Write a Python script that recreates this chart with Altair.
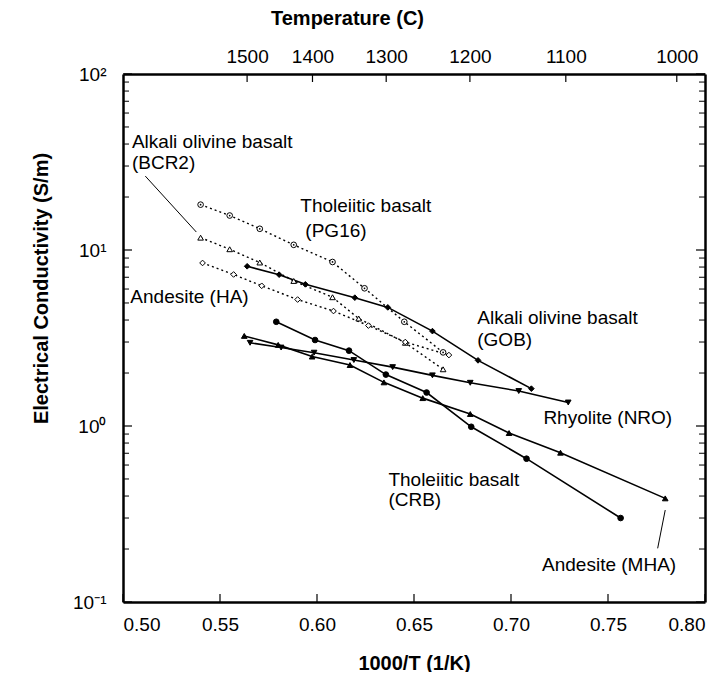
import altair as alt
import pandas as pd

# ---------------- data ----------------
pg16_x = [0.540, 0.555, 0.5705, 0.588, 0.608, 0.6245, 0.645, 0.665]
pg16_y = [18.1, 15.7, 13.2, 10.7, 8.55, 6.06, 3.91, 2.62]
bcr2_x = [0.540, 0.555, 0.5705, 0.588, 0.608, 0.6215, 0.6455, 0.665]
bcr2_y = [11.75, 10.1, 8.49, 6.67, 5.39, 4.08, 2.97, 2.10]
ha_x = [0.541, 0.557, 0.5715, 0.590, 0.6085, 0.6265, 0.6455, 0.668]
ha_y = [8.44, 7.26, 6.26, 5.23, 4.50, 3.72, 3.00, 2.53]
gob_x = [0.564, 0.5805, 0.594, 0.6195, 0.6365, 0.6595, 0.683, 0.7105]
gob_y = [8.08, 7.24, 6.38, 5.36, 4.72, 3.46, 2.36, 1.63]
crb_x = [0.579, 0.599, 0.6165, 0.6355, 0.6565, 0.6795, 0.708, 0.7565]
crb_y = [3.91, 3.08, 2.68, 1.96, 1.55, 0.99, 0.652, 0.30]
mha_x = [0.5625, 0.580, 0.5975, 0.617, 0.6345, 0.6545, 0.679, 0.699, 0.7255, 0.7795]
mha_y = [3.25, 2.89, 2.48, 2.22, 1.77, 1.44, 1.17, 0.912, 0.705, 0.388]
nro_x = [0.5655, 0.5815, 0.5985, 0.619, 0.639, 0.6595, 0.679, 0.704, 0.7295]
nro_y = [2.97, 2.79, 2.61, 2.37, 2.16, 1.94, 1.76, 1.58, 1.36]

series_names = ["PG16", "BCR2", "HA", "GOB", "CRB", "MHA", "NRO"]
series_style = ["dotted", "dotted", "dotted", "solid", "solid", "solid", "solid"]
series_shape = ["circle", "triangle-up", "diamond", "diamond", "circle", "triangle-up", "triangle-down"]
series_fill = ["white", "white", "white", "black", "black", "black", "black"]

label_text = ["Alkali olivine basalt", "(BCR2)", "Tholeiitic basalt", "(PG16)",
              "Andesite (HA)", "Alkali olivine basalt", "(GOB)", "Rhyolite (NRO)",
              "Tholeiitic basalt", "(CRB)", "Andesite (MHA)"]
label_x = [0.5046, 0.5046, 0.5914, 0.594, 0.5038, 0.6826, 0.6826, 0.7167, 0.6368, 0.6368, 0.716]
label_y = [41.2, 31.1, 17.8, 12.8, 5.43, 4.09, 3.08, 1.106, 0.493, 0.38, 0.162]

leader_x = [0.5115, 0.7756]
leader_y = [26.3, 0.2018]
leader_x2 = [0.5378, 0.7795]
leader_y2 = [12.65, 0.333]

x_ticks = [0.50, 0.55, 0.60, 0.65, 0.70, 0.75, 0.80]
temp_ticks = [1500, 1400, 1300, 1200, 1100, 1000]
y_major = [0.1, 1, 10, 100]
y_minor = [0.2, 0.3, 0.4, 0.5, 0.6, 0.7, 0.8, 0.9,
           2, 3, 4, 5, 6, 7, 8, 9,
           20, 30, 40, 50, 60, 70, 80, 90]

# ---------------- tables ----------------
xs = [pg16_x, bcr2_x, ha_x, gob_x, crb_x, mha_x, nro_x]
ys = [pg16_y, bcr2_y, ha_y, gob_y, crb_y, mha_y, nro_y]
rows = []
for name, style, sx, sy in zip(series_names, series_style, xs, ys):
    for i, (a, b) in enumerate(zip(sx, sy)):
        rows.append({"series": name, "style": style, "idx": i, "x": a, "y": b})
df = pd.DataFrame(rows)
labels = pd.DataFrame({"text": label_text, "x": label_x, "y": label_y})
leaders = pd.DataFrame({"x": leader_x, "y": leader_y, "x2": leader_x2, "y2": leader_y2})

W, H = 582, 528
FONT = "Liberation Sans"
FRAME = dict(domain=True, domainColor="black", domainWidth=2.5)

xscale = alt.Scale(domain=[0.5, 0.8], nice=False, zero=False)
yscale = alt.Scale(type="log", domain=[0.1, 100], nice=False)

X = lambda f: alt.X(f, scale=xscale, axis=None)
Y = lambda f: alt.Y(f, scale=yscale, axis=None)

solid = alt.Chart(df).transform_filter("datum.style == 'solid'").mark_line(
    color="black", strokeWidth=1.6).encode(x=X("x:Q"), y=Y("y:Q"), detail="series:N", order="idx:Q")
dotted = alt.Chart(df).transform_filter("datum.style == 'dotted'").mark_line(
    color="black", strokeWidth=1.4, strokeDash=[2, 3]).encode(x=X("x:Q"), y=Y("y:Q"), detail="series:N", order="idx:Q")

points = alt.Chart(df).mark_point(filled=True, size=32, strokeWidth=1, opacity=1).encode(
    x=X("x:Q"), y=Y("y:Q"),
    shape=alt.Shape("series:N", scale=alt.Scale(domain=series_names, range=series_shape), legend=None),
    fill=alt.Fill("series:N", scale=alt.Scale(domain=series_names, range=series_fill), legend=None),
    stroke=alt.value("black"),
)
dots = alt.Chart(df).transform_filter("datum.series == 'PG16'").mark_circle(
    size=3, color="black", opacity=1).encode(x=X("x:Q"), y=Y("y:Q"))

texts = alt.Chart(labels).mark_text(align="left", baseline="middle", fontSize=19, font=FONT, color="black").encode(
    x=X("x:Q"), y=Y("y:Q"), text="text:N")
leader = alt.Chart(leaders).mark_rule(color="black", strokeWidth=1).encode(
    x=X("x:Q"), y=Y("y:Q"), x2="x2:Q", y2="y2:Q")

bottom_axis = alt.Chart(pd.DataFrame({"v": x_ticks})).mark_rule(color="black", strokeWidth=1.2).encode(
    x=alt.X("v:Q", scale=xscale, axis=alt.Axis(
        orient="bottom", values=x_ticks, format=".2f", title="1000/T (1/K)",
        ticks=False, tickSize=0, grid=False, labelPadding=13,
        titleX=W / 2, titleY=61, titleBaseline="middle", titleAlign="center", **FRAME)),
    y=alt.value(H), y2=alt.value(H - 8))

temp_pos = [1000.0 / (t + 273.15) for t in temp_ticks]
top_axis = alt.Chart(pd.DataFrame({"T": temp_ticks})).transform_calculate(
    v="1000 / (datum.T + 273.15)").mark_rule(color="black", strokeWidth=1.2).encode(
    x=alt.X("v:Q", scale=xscale, axis=alt.Axis(
        orient="top", values=temp_pos, labelExpr="format(1000 / datum.value - 273.15, '.0f')",
        title="Temperature (C)", ticks=False, tickSize=0, grid=False, labelPadding=8,
        titleX=224, titleY=-56, titleBaseline="middle", titleAlign="center", **FRAME)),
    y=alt.value(0), y2=alt.value(8))

left_major = alt.Chart(pd.DataFrame({"v": y_major})).mark_rule(color="black", strokeWidth=1.2).encode(
    y=alt.Y("v:Q", scale=yscale, axis=alt.Axis(
        orient="left", values=y_major,
        labelExpr="datum.value >= 99 ? '10²' : datum.value >= 9 ? '10¹' : datum.value >= 0.9 ? '10⁰' : '10⁻¹'",
        title="Electrical Conductivity (S/m)", ticks=False, tickSize=0, grid=False,
        labelPadding=17, titleX=-82, titleY=H / 2 - 50, titleBaseline="middle", titleAlign="center", **FRAME)),
    x=alt.value(0), x2=alt.value(9))
left_minor = alt.Chart(pd.DataFrame({"v": y_minor})).mark_rule(color="black", strokeWidth=1).encode(
    y=Y("v:Q"), x=alt.value(0), x2=alt.value(6))
right_major = alt.Chart(pd.DataFrame({"v": y_major})).mark_rule(color="black", strokeWidth=1.2).encode(
    y=alt.Y("v:Q", scale=yscale, axis=alt.Axis(
        orient="right", labels=False, ticks=False, grid=False, title=None, **FRAME)),
    x=alt.value(W - 9), x2=alt.value(W))
right_minor = alt.Chart(pd.DataFrame({"v": y_minor})).mark_rule(color="black", strokeWidth=1).encode(
    y=Y("v:Q"), x=alt.value(W - 6), x2=alt.value(W))

chart = alt.layer(
    left_minor, right_minor, right_major, left_major, bottom_axis, top_axis,
    dotted, solid, leader, points, dots, texts,
).resolve_axis(x="independent", y="independent").properties(
    width=W, height=H,
    autosize=alt.AutoSizeParams(type="none"),
    padding={"left": 115, "top": 66, "right": 15, "bottom": 70},
).configure_view(stroke=None).configure_axis(
    labelFont=FONT, titleFont=FONT, labelFontSize=19, titleFontSize=20,
    titleFontWeight="bold", labelColor="black", titleColor="black",
)

chart.save("out.html", embed_options={"renderer": "svg", "actions": False})
